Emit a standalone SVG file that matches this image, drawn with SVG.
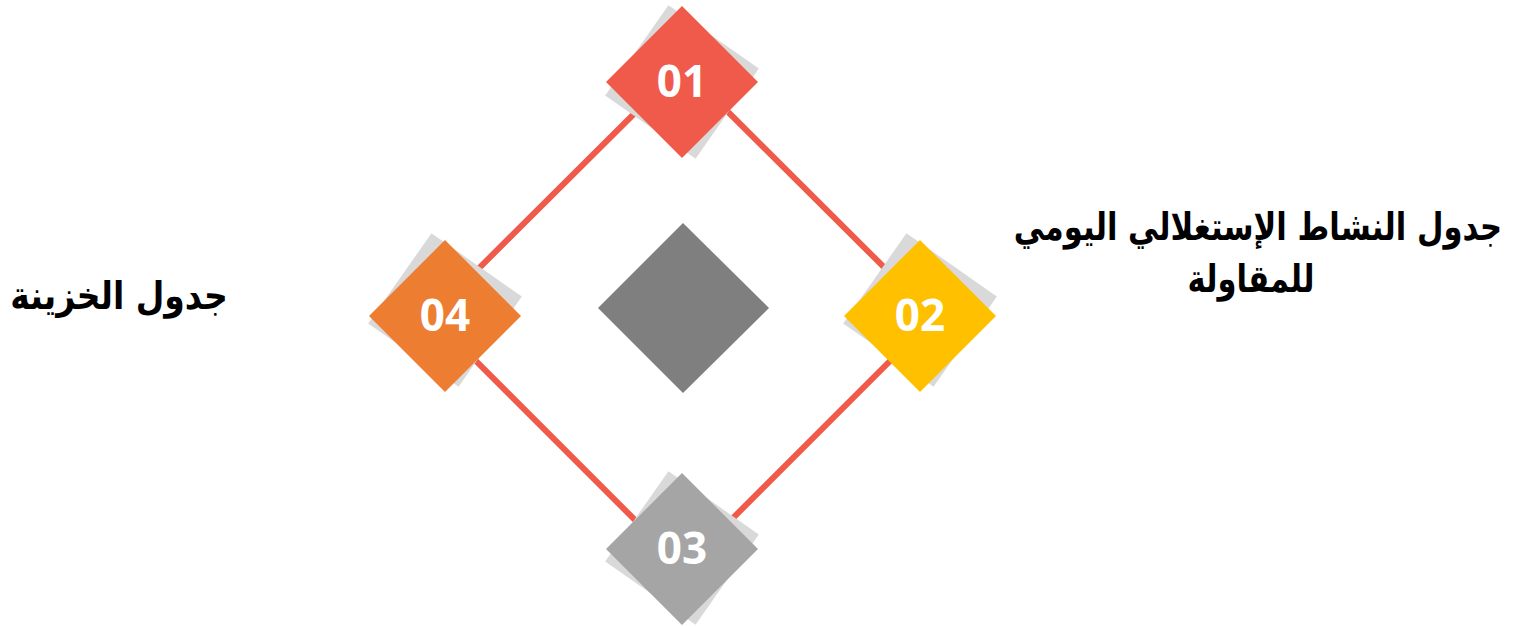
<svg xmlns="http://www.w3.org/2000/svg" width="1517" height="627" viewBox="0 0 1517 627">
<style>
.shadow{fill:#D9D9D9}
.num{font-family:"Open Sans","DejaVu Sans",sans-serif;font-weight:bold;font-size:44px;fill:#FFFFFF;text-anchor:middle}
.label{font-family:"DejaVu Sans","Noto Sans",sans-serif;font-weight:bold;font-size:30px;fill:#000000;text-anchor:middle;direction:rtl}
</style>
<defs>
<polygon id="dia" points="0,-76 76,0 0,76 -76,0"/>
<polygon id="sh" points="0,-78 78,0 0,78 -78,0"/>
</defs>
<rect width="1517" height="627" fill="#FFFFFF"/>
<g id="connectors">
<polygon points="682,66 934,317 683,568 431,316" fill="none" stroke="#F05A4A" stroke-width="6"/>
</g>
<g id="center">
<polygon points="683,223 769,308 683,393 598,308" fill="#7F7F7F"/>
</g>
<g id="node01">
<use href="#sh" class="shadow" transform="translate(682,82) rotate(-10)"/>
<use href="#dia" fill="#F05A4A" transform="translate(682,82)"/>
<text class="num" x="682" y="97">01</text>
</g>
<g id="node02">
<use href="#sh" class="shadow" transform="translate(920,310) rotate(-10)"/>
<use href="#dia" fill="#FFC000" transform="translate(920,316)"/>
<text class="num" x="920" y="331">02</text>
</g>
<g id="node03">
<use href="#sh" class="shadow" transform="translate(682,548) rotate(-10)"/>
<use href="#dia" fill="#A5A5A5" transform="translate(682,549)"/>
<text class="num" x="682" y="564">03</text>
</g>
<g id="node04">
<use href="#sh" class="shadow" transform="translate(445,310) rotate(-10)"/>
<use href="#dia" fill="#ED7D31" transform="translate(445,316)"/>
<text class="num" x="445" y="331">04</text>
</g>
<g id="label02">
<text class="label" transform="translate(1258,240) scale(1.02,1.28)">جدول النشاط الإستغلالي اليومي</text>
<text class="label" transform="translate(1251,292) scale(1.02,1.28)">للمقاولة</text>
</g>
<g id="label04">
<text class="label" transform="translate(119,309) scale(1.1,1.28)">جدول الخزينة</text>
</g>
</svg>
